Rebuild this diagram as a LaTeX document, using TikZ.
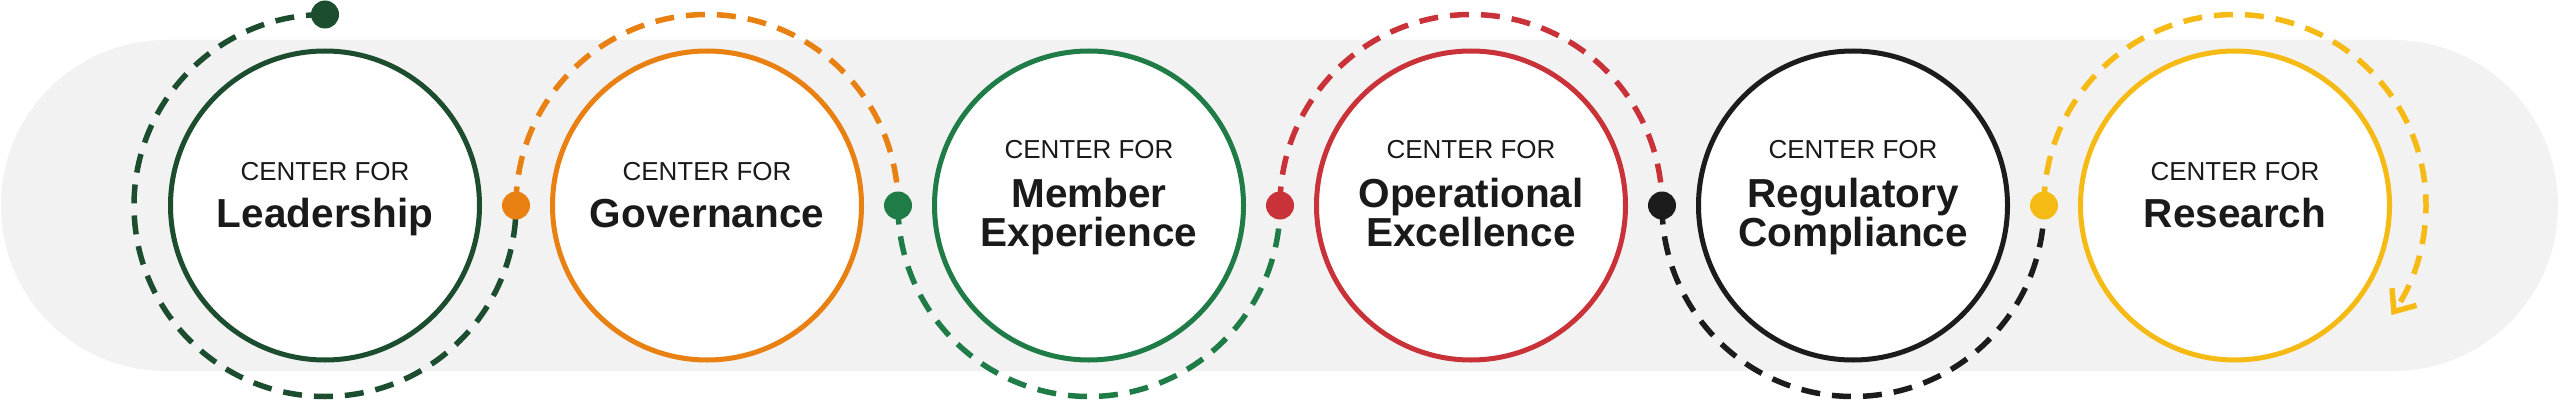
\documentclass[tikz,border=0pt]{standalone}
\usepackage{fontspec}
\setmainfont{Liberation Sans}
\usetikzlibrary{arrows.meta}
\definecolor{cDG}{RGB}{27,77,46}
\definecolor{cOR}{RGB}{232,128,18}
\definecolor{cGR}{RGB}{31,124,70}
\definecolor{cRD}{RGB}{200,50,56}
\definecolor{cBK}{RGB}{28,28,28}
\definecolor{cYL}{RGB}{245,186,20}
\definecolor{band}{RGB}{242,242,242}
\definecolor{txt}{RGB}{26,26,26}
\begin{document}
\begin{tikzpicture}[x=1pt,y=1pt,
  ring/.style={circle, draw=#1, line width=5pt, fill=white, minimum size=309pt, inner sep=0pt},
  trail/.style={draw=#1, line width=5.5pt, dash pattern=on 19pt off 12pt},
  dot/.style={circle, fill=#1, minimum size=28pt, inner sep=0pt},
  small/.style={font=\fontsize{26}{30}\selectfont, text=txt, anchor=base, inner sep=0pt},
  big/.style={font=\bfseries\fontsize{40.5}{44}\selectfont, text=txt, anchor=base, inner sep=0pt}]
\useasboundingbox (0,0) rectangle (2560,400);
\fill[band, rounded corners=165pt] (1,29) rectangle (2558,360);

% circles
\node[ring=cDG] (c1) at (325,194.5) {};
\node[ring=cOR] (c2) at (707,194.5) {};
\node[ring=cGR] (c3) at (1089,194.5) {};
\node[ring=cRD] (c4) at (1471,194.5) {};
\node[ring=cBK] (c5) at (1853,194.5) {};
\node[ring=cYL] (c6) at (2235,194.5) {};

% junction coordinates
\coordinate (s0) at (325,385.5);
\coordinate (j1) at (516,194.5);
\coordinate (j2) at (898,194.5);
\coordinate (j3) at (1280,194.5);
\coordinate (j4) at (1662,194.5);
\coordinate (j5) at (2044,194.5);

% dashed trails
\draw[trail=cDG] (s0) arc[start angle=90, end angle=360, radius=191pt];
\draw[trail=cOR] (j1) arc[start angle=180, end angle=0, radius=191pt];
\draw[trail=cGR] (j2) arc[start angle=180, end angle=360, radius=191pt];
\draw[trail=cRD] (j3) arc[start angle=180, end angle=0, radius=191pt];
\draw[trail=cBK] (j4) arc[start angle=180, end angle=360, radius=191pt];
\draw[trail=cYL, -{Straight Barb[length=18pt, width=30pt]}] (j5) arc[start angle=180, end angle=-35, radius=191pt];

% dots
\node[dot=cDG] (d0) at (s0) {};
\node[dot=cOR] (d1) at (j1) {};
\node[dot=cGR] (d2) at (j2) {};
\node[dot=cRD] (d3) at (j3) {};
\node[dot=cBK] (d4) at (j4) {};
\node[dot=cYL] (d5) at (j5) {};

% labels
\node[small] (t1a) at (325,220) {CENTER FOR};
\node[big] (t1b) at (325,173) {Leadership};
\node[small] (t2a) at (707,220) {CENTER FOR};
\node[big] (t2b) at (707,173) {Governance};
\node[small] (t3a) at (1089,242) {CENTER FOR};
\node[big] (t3b) at (1089,193) {Member};
\node[big] (t3c) at (1089,154) {Experience};
\node[small] (t4a) at (1471,242) {CENTER FOR};
\node[big] (t4b) at (1471,193) {Operational};
\node[big] (t4c) at (1471,154) {Excellence};
\node[small] (t5a) at (1853,242) {CENTER FOR};
\node[big] (t5b) at (1853,193) {Regulatory};
\node[big] (t5c) at (1853,154) {Compliance};
\node[small] (t6a) at (2235,220) {CENTER FOR};
\node[big] (t6b) at (2235,173) {Research};
\end{tikzpicture}
\end{document}
